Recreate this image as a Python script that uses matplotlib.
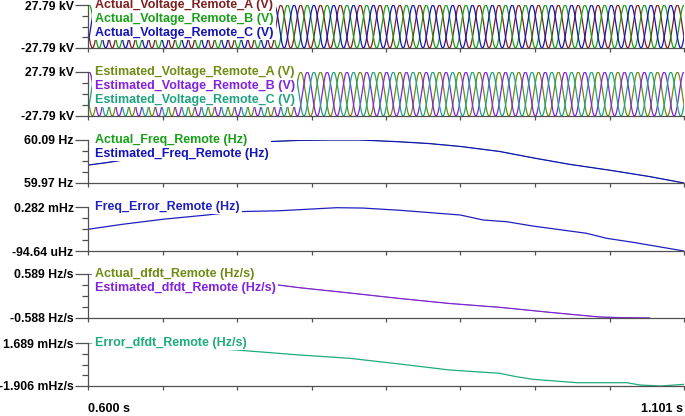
import numpy as np
import matplotlib.pyplot as plt
from matplotlib.patches import Rectangle
from matplotlib.transforms import Bbox

plt.rcParams['font.family'] = ['Liberation Sans', 'DejaVu Sans']
plt.rcParams['font.weight'] = 'bold'
plt.rcParams['font.size'] = 9

# time window (s)
t_start, t_end = 0.600, 1.101

# voltage waveforms (kV peak, three phases)
v_peak_kv = 27.79
nominal_hz = 60.0
phase_b_peak_s = 0.601
phase_shift_deg = [120, 0, -120]

# frequency (Hz)
freq_t = [0.600, 0.616, 0.650, 0.700, 0.748, 0.778, 0.803, 0.829, 0.862, 0.887,
          0.913, 0.946, 0.976, 1.005, 1.038, 1.072, 1.101]
freq_hz = [60.020, 60.027, 60.045, 60.070, 60.085, 60.089, 60.090, 60.090, 60.085, 60.080,
           60.072, 60.058, 60.039, 60.022, 60.006, 59.988, 59.970]

# frequency error (mHz)
ferr_t = [0.600, 0.629, 0.663, 0.700, 0.725, 0.761, 0.809, 0.831, 0.862, 0.913,
          0.932, 0.952, 0.974, 1.019, 1.036, 1.058, 1.101]
ferr_mhz = [0.091, 0.134, 0.177, 0.2135, 0.242, 0.250, 0.276, 0.273, 0.254, 0.2135,
            0.171, 0.156, 0.119, 0.057, 0.014, -0.020, -0.09464]

# rate of change of frequency (Hz/s)
dfdt_t = [0.600, 0.650, 0.700, 0.755, 0.778, 0.820, 0.862, 0.904, 0.946, 0.988,
          1.030, 1.050, 1.072]
dfdt_hzs = [0.589, 0.550, 0.470, 0.313, 0.222, 0.081, -0.066, -0.200, -0.302, -0.436,
            -0.561, -0.580, -0.588]

# dfdt error (mHz/s)
edfdt_t = [0.600, 0.650, 0.700, 0.732, 0.778, 0.820, 0.862, 0.904, 0.946, 0.960,
           0.974, 1.011, 1.053, 1.064, 1.081, 1.101]
edfdt_mhzs = [1.689, 1.550, 1.300, 1.045, 0.686, 0.410, -0.067, -0.568, -0.844, -1.128,
              -1.346, -1.630, -1.630, -1.823, -1.906, -1.770]

# colours
c_act_a, c_act_b, c_act_c = '#7F1F1F', '#18A018', '#1414B8'
c_est_a, c_est_b, c_est_c = '#6E8B12', '#8022E0', '#1FA37E'
c_ferr = '#2020C0'
c_edfdt = '#1FAA7F'

# panel layout in pixels (top, bottom) on a 685x416 canvas
W, H = 685, 416
panel_px = [(5, 48), (72, 116), (140, 183), (207, 251), (274, 318), (343, 386)]
left_px, right_px = 88, 684

fig = plt.figure(figsize=(W / 100, H / 100), dpi=100)
axes = []
for top, bot in panel_px:
    ax = fig.add_axes([left_px / W, 1 - bot / H, (right_px - left_px) / W, (bot - top) / H])
    axes.append(ax)

t_wave = np.linspace(t_start, t_end, 4000)
theta = 2 * np.pi * nominal_hz * (t_wave - phase_b_peak_s)
waves = [v_peak_kv * np.cos(theta + np.deg2rad(d)) for d in phase_shift_deg]

lw = 0.9
ax1, ax2, ax3, ax4, ax5, ax6 = axes
for w, c in zip(waves, [c_act_a, c_act_b, c_act_c]):
    ax1.plot(t_wave, w, color=c, lw=lw)
for w, c in zip(waves, [c_est_a, c_est_b, c_est_c]):
    ax2.plot(t_wave, w, color=c, lw=lw)
ax3.plot(freq_t, freq_hz, color=c_act_b, lw=0.5)
ax3.plot(freq_t, freq_hz, color=c_act_c, lw=lw)
ax4.plot(ferr_t, ferr_mhz, color=c_ferr, lw=lw)
ax5.plot(dfdt_t, dfdt_hzs, color=c_est_a, lw=0.5)
ax5.plot(dfdt_t, dfdt_hzs, color=c_est_b, lw=lw)
ax6.plot(edfdt_t, edfdt_mhzs, color=c_edfdt, lw=lw)

panels = [
    (ax1, -v_peak_kv, v_peak_kv, '-27.79 kV', '27.79 kV',
     [('Actual_Voltage_Remote_A (V)', c_act_a), ('Actual_Voltage_Remote_B (V)', c_act_b),
      ('Actual_Voltage_Remote_C (V)', c_act_c)]),
    (ax2, -v_peak_kv, v_peak_kv, '-27.79 kV', '27.79 kV',
     [('Estimated_Voltage_Remote_A (V)', c_est_a), ('Estimated_Voltage_Remote_B (V)', c_est_b),
      ('Estimated_Voltage_Remote_C (V)', c_est_c)]),
    (ax3, 59.97, 60.09, '59.97 Hz', '60.09 Hz',
     [('Actual_Freq_Remote (Hz)', c_act_b), ('Estimated_Freq_Remote (Hz)', c_act_c)]),
    (ax4, -0.09464, 0.282, '-94.64 uHz', '0.282 mHz',
     [('Freq_Error_Remote (Hz)', c_ferr)]),
    (ax5, -0.588, 0.589, '-0.588 Hz/s', '0.589 Hz/s',
     [('Actual_dfdt_Remote (Hz/s)', c_est_a), ('Estimated_dfdt_Remote (Hz/s)', c_est_b)]),
    (ax6, -1.906, 1.689, '-1.906 mHz/s', '1.689 mHz/s',
     [('Error_dfdt_Remote (Hz/s)', c_edfdt)]),
]

xticks = np.linspace(t_start, t_end, 9)
label_texts = []
for ax, lo, hi, lo_lab, hi_lab, labels in panels:
    ax.set_xlim(t_start, t_end)
    ax.set_ylim(lo, hi)
    ax.set_yticks([lo, hi])
    ax.set_yticklabels([lo_lab, hi_lab])
    ax.set_yticks(np.linspace(lo, hi, 5)[1:-1], minor=True)
    ax.set_xticks(xticks)
    ax.set_xticklabels([])
    for s in ['top', 'right']:
        ax.spines[s].set_visible(False)
    for s in ['left', 'bottom']:
        ax.spines[s].set_color('#505050')
        ax.spines[s].set_linewidth(0.9)
    ax.tick_params(axis='y', which='major', length=9.5, width=0.9, color='#505050', pad=0.8,
                   labelsize=8.8)
    ax.tick_params(axis='y', which='minor', length=4.5, width=0.9, color='#505050')
    ax.tick_params(axis='x', which='major', length=3, width=0.9, color='#505050')
    texts = []
    for i, (lab, col) in enumerate(labels):
        tx = ax.annotate(lab, xy=(0, 1), xycoords='axes fraction', xytext=(7, -14 * i),
                         textcoords='offset pixels', ha='left', va='center',
                         color=col, fontweight='bold', fontsize=9, zorder=5,
                         annotation_clip=False)
        texts.append(tx)
    label_texts.append((ax, texts))

ax6.annotate('0.600 s', xy=(t_start, 0), xycoords=('data', 'axes fraction'),
             xytext=(0, -23), textcoords='offset pixels', ha='left', va='center',
             fontweight='bold', annotation_clip=False)
ax6.annotate('1.101 s', xy=(t_end, 0), xycoords=('data', 'axes fraction'),
             xytext=(-1, -23), textcoords='offset pixels', ha='right', va='center',
             fontweight='bold', annotation_clip=False)

# white box behind each group of labels, hiding the traces like the original
fig.canvas.draw()
renderer = fig.canvas.get_renderer()
for ax, texts in label_texts:
    bb = Bbox.union([t.get_window_extent(renderer) for t in texts])
    bb = Bbox.from_extents(bb.x0 - 3, bb.y0 - 1, bb.x1 + 2, bb.y1 + 1)
    bb_ax = bb.transformed(ax.transAxes.inverted())
    ax.add_patch(Rectangle((bb_ax.x0, bb_ax.y0), bb_ax.width, bb_ax.height,
                           transform=ax.transAxes, facecolor='white', edgecolor='none',
                           zorder=4, clip_on=False))

fig.savefig('out.png', dpi=100)
